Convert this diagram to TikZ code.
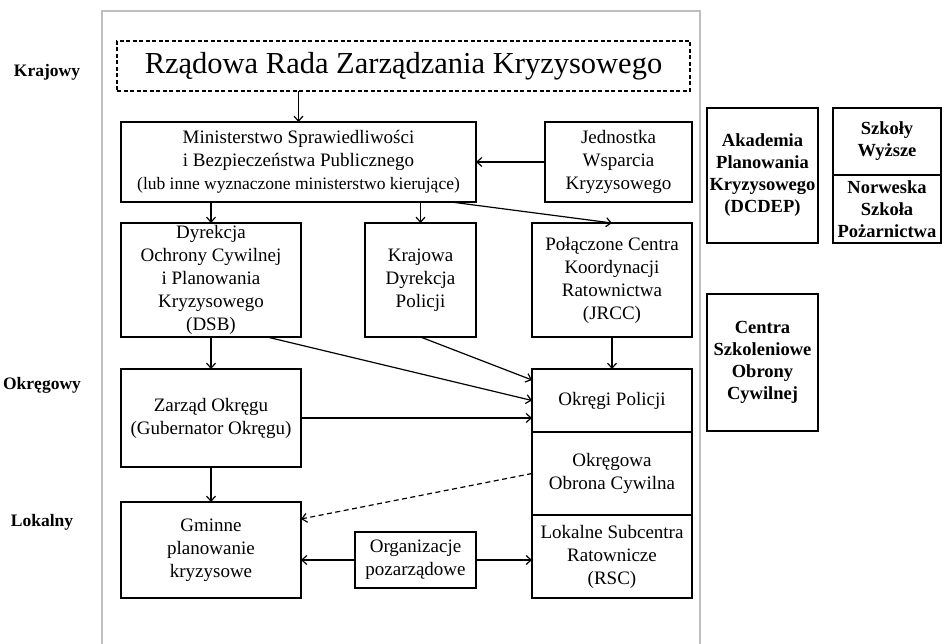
\documentclass[tikz,border=0pt]{standalone}
\usepackage{fontspec}
\setmainfont{Liberation Serif}
\usetikzlibrary{arrows.meta}
\begin{document}
\begin{tikzpicture}[x=1pt,y=-1pt,
  box/.style={draw,line width=1.5pt,inner sep=0pt,outer sep=0pt,align=center,
    font=\fontsize{19}{23}\selectfont},
  sidebox/.style={draw,line width=1.8pt,inner sep=0pt,outer sep=0pt,align=center,
    font=\bfseries\fontsize{18.5}{22}\selectfont},
  lvl/.style={font=\bfseries\fontsize{17.5}{20}\selectfont},
  arr/.style={line width=1.2pt,-{Straight Barb[length=5pt,width=9pt,line width=1.2pt]}},
  frame/.style={draw=black!25,line width=2pt}]
\useasboundingbox (0,0) rectangle (946,644);
\draw[frame] (102,650) -- (102,11) -- (700,11) -- (700,650);
% levels
\node[lvl] (kraj) at (47,72) {Krajowy};
\node[lvl] (okrl) at (42,385) {Okręgowy};
\node[lvl] (lokl) at (42,522) {Lokalny};
% boxes
\node[box,dashed,dash pattern=on 4pt off 2.5pt,minimum width=573,minimum height=50,
  font=\fontsize{30.5}{36}\selectfont] (title) at (403.5,66) {Rządowa Rada Zarządzania Kryzysowego};
\node[box,minimum width=355,minimum height=80] (min) at (298.5,162)
  {Ministerstwo Sprawiedliwości\\ i Bezpieczeństwa Publicznego\\
   {\fontsize{17.5}{23}\selectfont (lub inne wyznaczone ministerstwo kierujące)}};
\node[box,minimum width=147,minimum height=80] (jed) at (618.5,162) {Jednostka\\ Wsparcia\\ Kryzysowego};
\node[box,minimum width=180,minimum height=114] (dsb) at (211,280)
  {Dyrekcja\\ Ochrony Cywilnej\\ i Planowania\\ Kryzysowego\\ (DSB)};
\node[box,minimum width=111,minimum height=114] (kdp) at (420.5,280) {Krajowa\\ Dyrekcja\\ Policji};
\node[box,minimum width=160,minimum height=114] (jrcc) at (612,280)
  {Połączone Centra\\ Koordynacji\\ Ratownictwa\\ (JRCC)};
\node[box,minimum width=180,minimum height=98] (zar) at (211,418) {Zarząd Okręgu\\ (Gubernator Okręgu)};
\node[box,minimum width=160,minimum height=63] (okp) at (612,400.5) {Okręgi Policji};
\node[box,minimum width=160,minimum height=83] (ooc) at (612,473.5) {Okręgowa\\ Obrona Cywilna};
\node[box,minimum width=160,minimum height=83] (lsr) at (612,556.5) {Lokalne Subcentra\\ Ratownicze\\ (RSC)};
\node[box,minimum width=180,minimum height=96] (gmi) at (211,550) {Gminne\\ planowanie\\ kryzysowe};
\node[box,minimum width=121,minimum height=56] (org) at (415.5,560) {Organizacje\\ pozarządowe};
% side boxes
\node[sidebox,minimum width=111,minimum height=135] (aka) at (762.5,175.5)
  {Akademia\\ Planowania\\ Kryzysowego\\ (DCDEP)};
\node[sidebox,minimum width=108,minimum height=67] (szk) at (887,141.5) {Szkoły\\ Wyższe};
\node[sidebox,minimum width=108,minimum height=68] (nor) at (887,209) {Norweska\\ Szkoła\\ Pożarnictwa};
\node[sidebox,minimum width=111,minimum height=137] (cen) at (762.5,362.5)
  {Centra\\ Szkoleniowe\\ Obrony\\ Cywilnej};
% connectors
\draw[arr] (title.south -| min.north) -- (min.north);
\draw[arr] (jed.west) -- (min.east);
\draw[arr] (min.south -| dsb.north) -- (dsb.north);
\draw[arr] (min.south -| kdp.north) -- (kdp.north);
\draw[arr] ([xshift=-25pt]min.south east) -- (jrcc.north);
\draw[arr] (dsb.south) -- (zar.north);
\draw[arr] (jrcc.south) -- (okp.north);
\draw[arr] ([xshift=-34pt]dsb.south east) -- (okp.west);
\draw[arr] (kdp.south) -- ([yshift=20.5pt]okp.west);
\draw[arr] (zar.east) -- (zar.east -| okp.west);
\draw[arr] (zar.south) -- (gmi.north);
\draw[arr,dashed,dash pattern=on 5pt off 3.5pt] (ooc.west) -- ([yshift=31pt]gmi.east);
\draw[arr] (org.west) -- (org.west -| gmi.east);
\draw[arr] (org.east) -- (org.east -| lsr.west);
\end{tikzpicture}
\end{document}
